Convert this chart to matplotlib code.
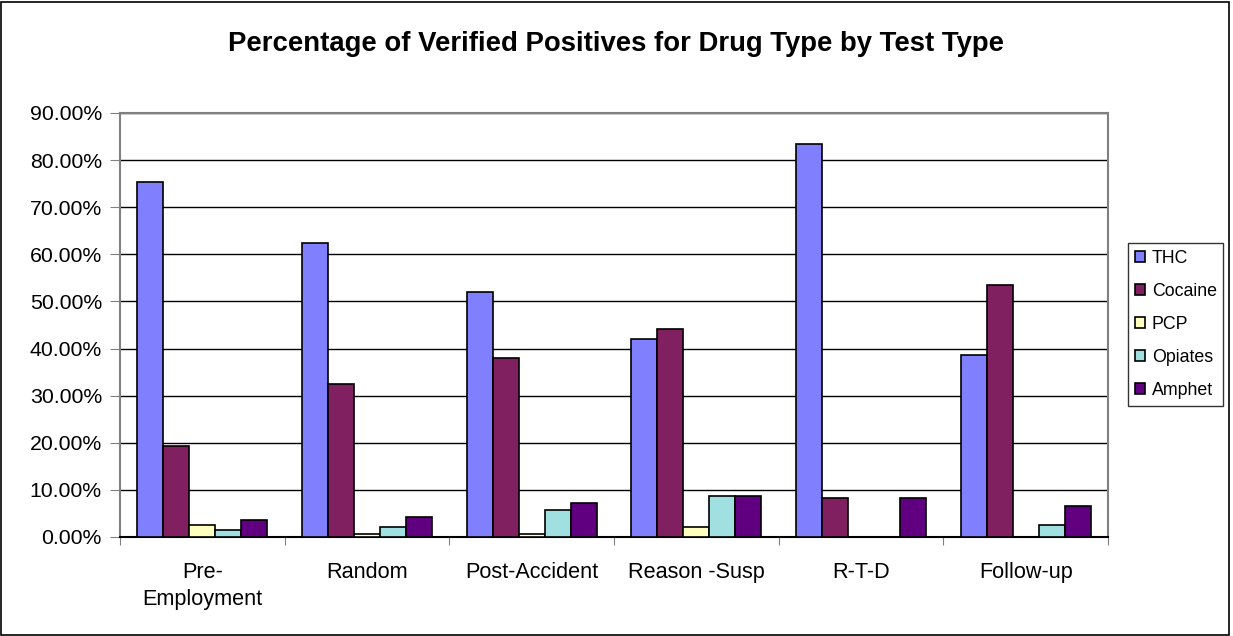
import matplotlib
matplotlib.use("Agg")
import matplotlib.pyplot as plt
import numpy as np
from matplotlib.patches import Rectangle
from matplotlib.ticker import FuncFormatter, FixedLocator

plt.rcParams['font.family'] = ['Liberation Sans', 'DejaVu Sans']

categories = ["Pre-\nEmployment", "Random", "Post-Accident", "Reason -Susp", "R-T-D", "Follow-up"]
series_names = ["THC", "Cocaine", "PCP", "Opiates", "Amphet"]
thc = [75.3, 62.5, 51.9, 42.0, 83.4, 38.7]
cocaine = [19.3, 32.5, 38.0, 44.2, 8.3, 53.4]
pcp = [2.5, 0.6, 0.6, 2.1, 0.0, 0.0]
opiates = [1.4, 2.1, 5.8, 8.7, 0.0, 2.5]
amphet = [3.6, 4.3, 7.25, 8.7, 8.3, 6.5]
series = [thc, cocaine, pcp, opiates, amphet]
colors = ["#8080FF", "#802060", "#FFFFC0", "#A0E0E0", "#600080"]

W, H = 1233, 636
fig = plt.figure(figsize=(W / 100, H / 100), dpi=100)
ax = fig.add_axes([120 / W, 1 - 537 / H, (1108 - 120) / W, (537 - 113) / H])

n = len(categories)
x = np.arange(n)
bw = 0.158
offsets = (np.arange(len(series)) - 2) * bw
for s, vals, c, off in zip(series_names, series, colors, offsets):
    ax.bar(x + off, vals, width=bw, color=c, edgecolor="black", linewidth=1.2, label=s, zorder=3)

ax.set_xlim(-0.5, n - 0.5)
ax.set_ylim(0, 90)
ax.set_yticks(np.arange(0, 91, 10))
ax.yaxis.set_major_formatter(FuncFormatter(lambda v, p: f"{v:.2f}%"))
ax.grid(axis="y", color="black", linewidth=1, zorder=0)
ax.set_axisbelow(True)

ax.xaxis.set_major_locator(FixedLocator(np.arange(-0.5, n, 1.0)))
ax.xaxis.set_major_formatter(FuncFormatter(lambda v, p: ""))
ax.xaxis.set_minor_locator(FixedLocator(x))
ax.set_xticklabels(categories, minor=True, linespacing=1.35)
ax.tick_params(axis="x", which="major", length=6, color="#808080", direction="out")
ax.tick_params(axis="x", which="minor", length=0, pad=18, labelsize=15.6)
ax.tick_params(axis="y", length=7, color="#808080", labelsize=15.3, pad=6)

for side in ["top", "right", "left", "bottom"]:
    ax.spines[side].set_color("#808080")
    ax.spines[side].set_linewidth(1.5)
ax.spines["bottom"].set_color("black")

leg = fig.legend(loc="upper left", bbox_to_anchor=(1128 / W, 1 - 243 / H), fontsize=12.8,
                 frameon=True, fancybox=False, edgecolor="black", handlelength=0.6,
                 handleheight=0.6, handletextpad=0.35, labelspacing=0.9, borderpad=0.38,
                 borderaxespad=0)
leg.get_frame().set_linewidth(1.0)

fig.text(0.5, 1 - 44 / H, "Percentage of Verified Positives for Drug Type by Test Type",
         ha="center", va="center", fontsize=19.8, fontweight="bold")

fig.patches.append(Rectangle((1 / W, 1 / H), (1229 - 1) / W, (634 - 1) / H,
                             transform=fig.transFigure, fill=False, edgecolor="black",
                             linewidth=1.2))

fig.savefig("out.png", dpi=100)
